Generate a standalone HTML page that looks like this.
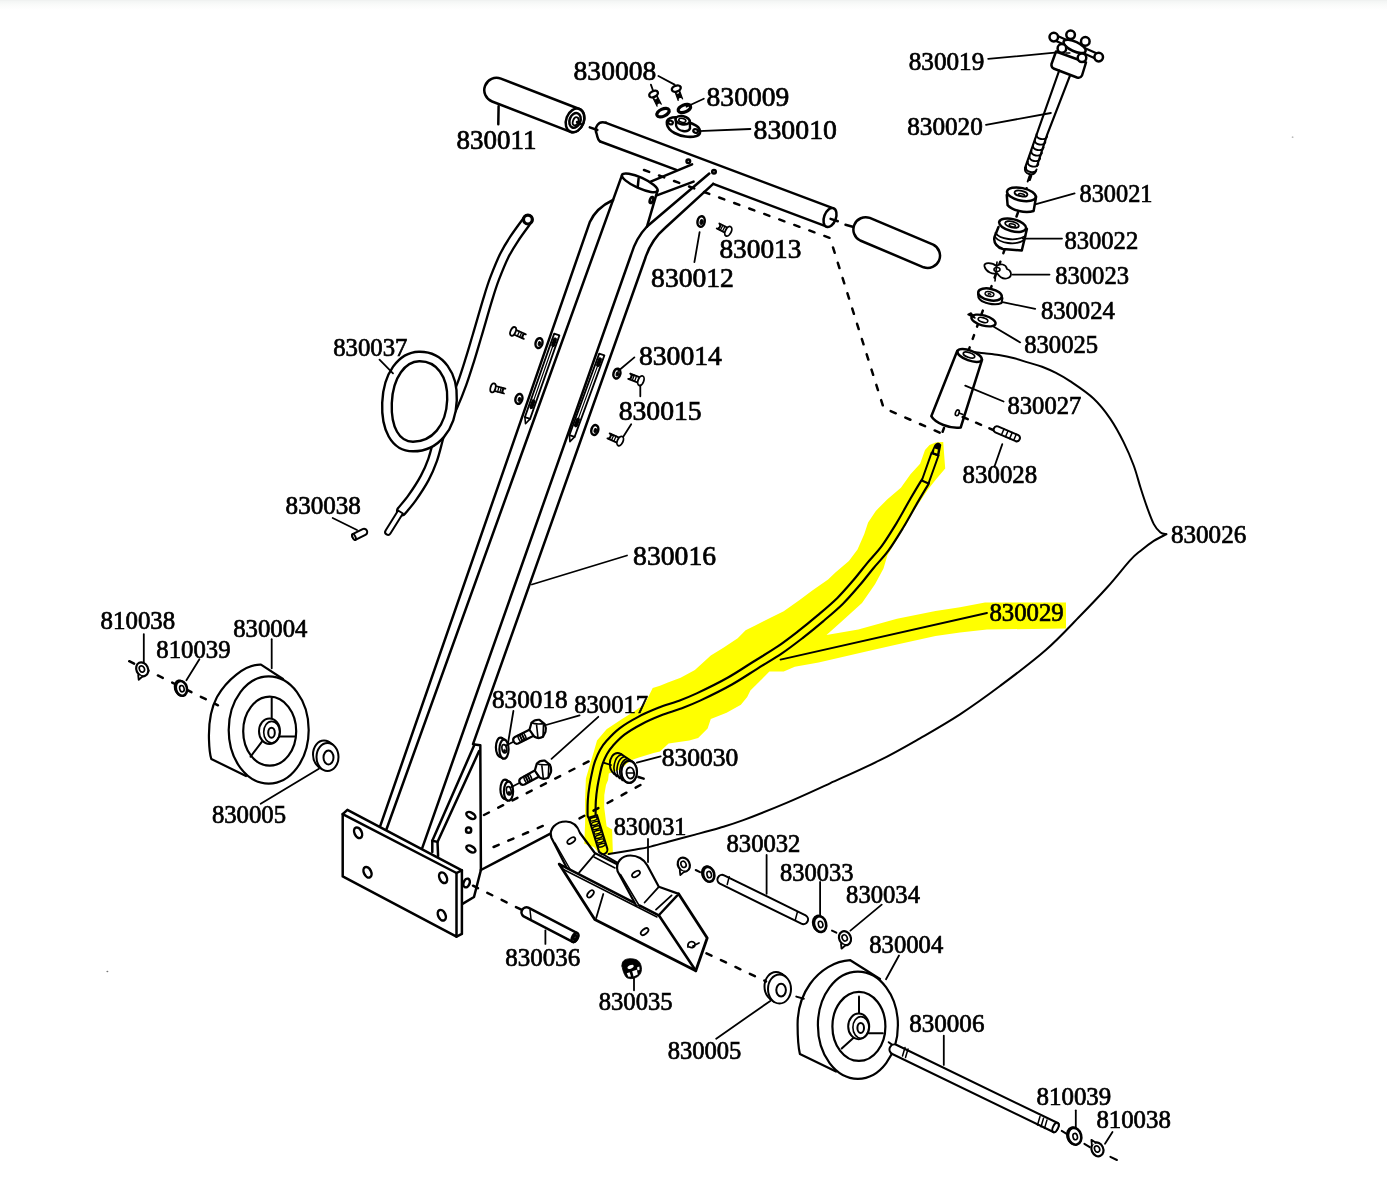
<!DOCTYPE html>
<html><head><meta charset="utf-8"><title>Parts diagram</title><style>
html,body{margin:0;padding:0;background:#fff;width:1387px;height:1195px;overflow:hidden}
svg{display:block}
text{font-family:"Liberation Serif",serif;fill:#000;stroke:#000;stroke-width:0.7px}
</style></head><body>
<svg width="1387" height="1195" viewBox="0 0 1387 1195">
<defs><linearGradient id="sh" x1="0" y1="0" x2="0" y2="1"><stop offset="0" stop-color="#eef0ef"/><stop offset="0.15" stop-color="#f4f6f5"/><stop offset="0.5" stop-color="#fafbfa"/><stop offset="1" stop-color="#fff"/></linearGradient></defs>
<rect width="1387" height="1195" fill="#fff"/>
<rect width="1387" height="10" fill="url(#sh)"/>
<g fill="none" stroke="#000" stroke-width="2.5" stroke-linecap="round" stroke-linejoin="round">
<path d="M606,122.8 L831.5,207.6"/>
<path d="M600.2,141.5 L676.3,169.9"/>
<path d="M713.2,183.9 L827.5,226.8"/>
<path d="M606,122.8 C598,120 594,128 596.7,134 C597.5,138 598.5,140.5 600.2,141.5"/>
<ellipse cx="830.0" cy="217.5" rx="5.9" ry="9.9" transform="rotate(20.4 830.0 217.5)" fill="#fff"/>
<polyline points="830.6,218.9 837.8,221.2"/>
<path d="M570.6,131.8 L492.1,101.5 A12.2,12.2 0 0 1 500.9,78.7 L579.4,109.0 A8.8,12.2 21.1 0 1 570.6,131.8 Z" fill="#fff"/>
<ellipse cx="575.0" cy="120.4" rx="8.8" ry="12.2" transform="rotate(21.105953050306816 575.0 120.4)" fill="#fff"/>
<ellipse cx="575.0" cy="120.4" rx="5.4" ry="7.6" transform="rotate(21.105953050306816 575.0 120.4)"/>
<ellipse cx="575.6" cy="121.3" rx="2.6" ry="4.2" transform="rotate(21 575.6 121.3)" stroke-width="1.8"/>
<polyline points="577.0,122.0 581.0,124.0"/>
<polyline points="589.8,127.4 597.3,130.0"/>
<polyline points="845.5,224.8 852.7,226.7"/>
<path d="M923.6,267.3 L860.2,240.5 A12.3,12.3 0 0 1 869.8,217.9 L933.2,244.7 A12.3,12.3 0 0 1 923.6,267.3 Z" fill="#fff"/>
<polyline points="498.6,106.3 498.3,124.3"/>
<polyline points="644.0,170.0 830.0,238.0 883.6,407.9 942.4,433.9" stroke-dasharray="5.5 10.5"/>
<path d="M380.2,826.1 L589.7,222.3 Q596,208 613,200"/>
<path d="M386.4,829.5 L622.1,174.8"/>
<ellipse cx="639.8" cy="182.8" rx="19.4" ry="5.4" transform="rotate(24.2 639.8 182.8)" fill="#fff"/>
<polyline points="638.6,178.6 637.8,186.5"/>
<path d="M657.5,190.7 L646.9,226.8"/>
<ellipse cx="651.5" cy="200.0" rx="1.6" ry="3.2" transform="rotate(20 651.5 200.0)"/>
<polyline points="657.5,195.2 693.6,181.6"/>
<polyline points="650.7,181.6 692.1,164.3"/>
<ellipse cx="688.3" cy="161.3" rx="1.8" ry="1.8"/>
<ellipse cx="714.0" cy="171.8" rx="1.8" ry="1.8"/>
<path d="M422.3,847.8 L631,255 Q636,238 647,226.5 L709.3,173.5"/>
<path d="M473,744.1 L645,259 Q651,240 665,228 L713.2,183.9"/>
<path d="M474.5,744.6 L480.3,745.2 L480.9,870"/>
<path d="M474.5,744.6 L432.3,840.7 L432.3,851.9"/>
<path d="M479.1,751.1 L437.5,841.9 L438.1,856"/>
<polyline points="432.3,840.7 437.5,841.9"/>
<path d="M480.9,870 L474,897 L462.5,903.8"/>
<polyline points="480.9,870.0 552.3,832.6"/>
<ellipse cx="470.9" cy="815.5" rx="2.8" ry="5.0" transform="rotate(-60 470.9 815.5)" fill="#fff"/>
<ellipse cx="470.9" cy="849.0" rx="2.8" ry="5.0" transform="rotate(-60 470.9 849.0)" fill="#fff"/>
<ellipse cx="468.6" cy="830.2" rx="2.6" ry="2.6"/>
<ellipse cx="466.6" cy="883.0" rx="3.0" ry="4.5" transform="rotate(20 466.6 883.0)"/>
<path d="M342.7,814.1 L456.5,873 L456.5,936.6 L342.7,876.4 Z" fill="#fff"/>
<path d="M342.7,814.1 L347.4,809.8 L461.9,870.3 L456.5,873"/>
<path d="M461.9,870.3 L461.9,933.9 L456.5,936.6"/>
<ellipse cx="358.1" cy="832.8" rx="3.6" ry="5.6" transform="rotate(-25 358.1 832.8)"/>
<ellipse cx="367.5" cy="872.3" rx="3.6" ry="5.6" transform="rotate(-25 367.5 872.3)"/>
<ellipse cx="443.1" cy="877.7" rx="3.6" ry="5.6" transform="rotate(-25 443.1 877.7)"/>
<ellipse cx="441.8" cy="915.2" rx="3.6" ry="5.6" transform="rotate(-25 441.8 915.2)"/>
<path d="M651.5,95.1 L657.1,106.2 A2.3,2.3 0 0 1 661.3,104.2 L655.7,93.1 Z" stroke-width="1.2" fill="#000"/>
<ellipse cx="655.6" cy="98.0" rx="1.2" ry="1.2" stroke-width="0.01" fill="#fff"/>
<ellipse cx="653.6" cy="94.1" rx="2.9" ry="4.6" transform="rotate(63.22884978553781 653.6 94.1)" stroke-width="2.4" fill="#fff"/>
<ellipse cx="653.6" cy="94.1" rx="1.1" ry="2.5" transform="rotate(63.22884978553781 653.6 94.1)" stroke-width="0.01" fill="#fff"/>
<path d="M674.1,89.4 L678.2,100.5 A2.3,2.3 0 0 1 682.6,98.9 L678.5,87.8 Z" stroke-width="1.2" fill="#000"/>
<ellipse cx="677.7" cy="92.5" rx="1.2" ry="1.2" stroke-width="0.01" fill="#fff"/>
<ellipse cx="676.3" cy="88.6" rx="2.9" ry="4.6" transform="rotate(69.72731438669005 676.3 88.6)" stroke-width="2.4" fill="#fff"/>
<ellipse cx="676.3" cy="88.6" rx="1.1" ry="2.5" transform="rotate(69.72731438669005 676.3 88.6)" stroke-width="0.01" fill="#fff"/>
<ellipse cx="663.0" cy="112.6" rx="6.6" ry="3.6" transform="rotate(-25 663.0 112.6)" stroke-width="3.2"/>
<ellipse cx="684.4" cy="108.5" rx="6.6" ry="3.6" transform="rotate(-22 684.4 108.5)" stroke-width="3.2"/>
<path d="M667,124.5 C665.5,118.5 672,116.5 679,117.5 L694,124.5 C701,127.5 702,134 696.5,136 C690,138 681,136.5 674.5,133 C670,130.5 667.6,127.5 667,124.5 Z" stroke-width="2.6" fill="#fff"/>
<path d="M675.8,119 L676.2,126 C678,131.5 688,133 690,128.5 L689.8,121.5" stroke-width="2.4" fill="#fff"/>
<ellipse cx="682.6" cy="120.2" rx="7.2" ry="4.0" transform="rotate(12 682.6 120.2)" stroke-width="2.6" fill="#fff"/>
<ellipse cx="682.3" cy="120.4" rx="3.6" ry="1.9" transform="rotate(12 682.3 120.4)" stroke-width="1.6"/>
<ellipse cx="670.5" cy="122.5" rx="2.4" ry="1.8" transform="rotate(20 670.5 122.5)" stroke-width="2.2"/>
<ellipse cx="695.6" cy="131.0" rx="2.4" ry="1.8" transform="rotate(20 695.6 131.0)" stroke-width="2.2"/>
<polyline points="658.4,76.0 674.6,84.6" stroke-width="1.8"/>
<polyline points="650.9,84.6 653.0,90.5" stroke-width="1.8"/>
<polyline points="686.5,106.7 703.8,98.7" stroke-width="1.8"/>
<polyline points="698.4,131.1 750.4,129.0" stroke-width="1.8"/>
<ellipse cx="701.1" cy="221.5" rx="3.6" ry="5.4" transform="rotate(10 701.1 221.5)" fill="#fff"/>
<ellipse cx="701.6" cy="222.0" rx="1.6" ry="2.4" transform="rotate(10 701.6 222.0)" stroke-width="1" fill="#000"/>
<path d="M729.6,228.8 L719.3,223.5 A2.9,2.9 0 0 1 716.7,228.5 L727.0,233.8" stroke-width="1.8" fill="#fff"/>
<polyline points="725.0,226.4 722.4,231.5" stroke-width="1.3"/>
<polyline points="722.9,225.3 720.3,230.4" stroke-width="1.3"/>
<polyline points="720.9,224.3 718.2,229.3" stroke-width="1.3"/>
<ellipse cx="728.3" cy="231.3" rx="2.9" ry="5.2" transform="rotate(-152.77132082290862 728.3 231.3)" stroke-width="1.8" fill="#fff"/>
<polyline points="699.6,232.1 694.4,262.2" stroke-width="1.8"/>
<path d="M554.2,333.6 L524.9,417.1 L530.1,418.9 L559.4,335.4 Z" stroke-width="1.8" fill="#fff"/>
<polyline points="554.8,340.2 530.8,408.6" stroke-width="1.2"/>
<polyline points="555.0,339.5 553.1,345.2" stroke-width="4"/>
<polyline points="533.4,401.3 531.4,407.0" stroke-width="4"/>
<path d="M524.9,417.1 L525.5,423.7 L530.1,418.9" stroke-width="1.6"/>
<path d="M599.2,353.6 L569.4,435.1 L574.6,436.9 L604.4,355.4 Z" stroke-width="1.8" fill="#fff"/>
<polyline points="599.7,360.1 575.4,426.6" stroke-width="1.2"/>
<polyline points="600.0,359.4 598.0,365.0" stroke-width="4"/>
<polyline points="578.0,419.7 575.9,425.3" stroke-width="4"/>
<path d="M569.4,435.1 L569.9,441.6 L574.6,436.9" stroke-width="1.6"/>
<path d="M512.1,333.7 L523.8,338.9 A2.5,2.5 0 0 1 525.8,334.3 L514.1,329.1" stroke-width="1.8" fill="#fff"/>
<polyline points="517.3,336.1 519.4,331.4" stroke-width="1.3"/>
<polyline points="519.7,337.1 521.7,332.5" stroke-width="1.3"/>
<polyline points="522.0,338.1 524.1,333.5" stroke-width="1.3"/>
<ellipse cx="513.1" cy="331.4" rx="2.5" ry="4.6" transform="rotate(23.962488974578495 513.1 331.4)" stroke-width="1.8" fill="#fff"/>
<ellipse cx="539.0" cy="343.1" rx="3.4" ry="5.0" transform="rotate(15 539.0 343.1)" fill="#fff"/>
<ellipse cx="539.5" cy="343.6" rx="1.3" ry="2.0" transform="rotate(15 539.5 343.6)" stroke-width="1" fill="#000"/>
<path d="M492.3,390.3 L504.0,393.5 A2.5,2.5 0 0 1 505.4,388.7 L493.7,385.5" stroke-width="1.8" fill="#fff"/>
<polyline points="497.6,391.8 498.9,386.9" stroke-width="1.3"/>
<polyline points="499.9,392.4 501.3,387.5" stroke-width="1.3"/>
<polyline points="502.3,393.1 503.6,388.2" stroke-width="1.3"/>
<ellipse cx="493.0" cy="387.9" rx="2.5" ry="4.6" transform="rotate(15.296547314430292 493.0 387.9)" stroke-width="1.8" fill="#fff"/>
<ellipse cx="518.9" cy="398.9" rx="3.4" ry="5.0" transform="rotate(15 518.9 398.9)" fill="#fff"/>
<ellipse cx="519.4" cy="399.4" rx="1.3" ry="2.0" transform="rotate(15 519.4 399.4)" stroke-width="1" fill="#000"/>
<ellipse cx="616.9" cy="373.6" rx="3.4" ry="5.0" transform="rotate(15 616.9 373.6)" fill="#fff"/>
<ellipse cx="617.4" cy="374.1" rx="1.3" ry="2.0" transform="rotate(15 617.4 374.1)" stroke-width="1" fill="#000"/>
<path d="M641.9,378.1 L630.2,373.6 A2.8,2.8 0 0 1 628.2,378.8 L639.9,383.3" stroke-width="1.8" fill="#fff"/>
<polyline points="636.6,376.1 634.6,381.2" stroke-width="1.3"/>
<polyline points="634.3,375.2 632.3,380.3" stroke-width="1.3"/>
<polyline points="631.9,374.3 630.0,379.4" stroke-width="1.3"/>
<ellipse cx="640.9" cy="380.7" rx="2.8" ry="5.0" transform="rotate(-158.9624889745781 640.9 380.7)" stroke-width="1.8" fill="#fff"/>
<ellipse cx="594.8" cy="430.0" rx="3.4" ry="5.0" transform="rotate(15 594.8 430.0)" fill="#fff"/>
<ellipse cx="595.3" cy="430.5" rx="1.3" ry="2.0" transform="rotate(15 595.3 430.5)" stroke-width="1" fill="#000"/>
<path d="M621.3,438.6 L609.6,433.4 A2.8,2.8 0 0 1 607.4,438.4 L619.1,443.6" stroke-width="1.8" fill="#fff"/>
<polyline points="616.1,436.2 613.8,441.3" stroke-width="1.3"/>
<polyline points="613.7,435.2 611.5,440.2" stroke-width="1.3"/>
<polyline points="611.4,434.2 609.1,439.2" stroke-width="1.3"/>
<ellipse cx="620.2" cy="441.1" rx="2.8" ry="5.0" transform="rotate(-156.0375110254217 620.2 441.1)" stroke-width="1.8" fill="#fff"/>
<polyline points="618.2,371.0 634.4,357.4" stroke-width="1.8"/>
<polyline points="640.3,385.3 640.3,396.3" stroke-width="1.8"/>
<polyline points="623.4,436.5 631.2,424.2" stroke-width="1.8"/>
<path d="M527.9,219.6 C525.6,222.8 518.2,232.6 514.3,238.6 C510.3,244.6 507.5,249.1 504.2,255.7 C500.9,262.3 497.4,271.3 494.7,278.3 C492.0,285.3 491.1,288.3 488.2,297.9 C485.2,307.5 480.1,325.6 477.0,336.0 C473.9,346.4 472.3,352.1 469.8,360.0 C467.3,367.9 465.0,375.4 462.2,383.2 C459.4,391.0 456.1,399.3 452.8,406.6 C449.5,413.9 444.6,422.0 442.3,427.1 C440.0,432.2 440.6,431.5 439.0,437.0 C437.4,442.5 435.0,453.2 432.6,460.0 C430.2,466.8 428.1,471.7 424.7,478.0 C421.3,484.3 415.9,492.5 412.0,498.0 C408.1,503.5 403.2,508.8 401.5,511.0 " stroke-width="11.2"/>
<path d="M527.9,219.6 C525.6,222.8 518.2,232.6 514.3,238.6 C510.3,244.6 507.5,249.1 504.2,255.7 C500.9,262.3 497.4,271.3 494.7,278.3 C492.0,285.3 491.1,288.3 488.2,297.9 C485.2,307.5 480.1,325.6 477.0,336.0 C473.9,346.4 472.3,352.1 469.8,360.0 C467.3,367.9 465.0,375.4 462.2,383.2 C459.4,391.0 456.1,399.3 452.8,406.6 C449.5,413.9 444.6,422.0 442.3,427.1 C440.0,432.2 440.6,431.5 439.0,437.0 C437.4,442.5 435.0,453.2 432.6,460.0 C430.2,466.8 428.1,471.7 424.7,478.0 C421.3,484.3 415.9,492.5 412.0,498.0 C408.1,503.5 403.2,508.8 401.5,511.0 " stroke="#fff" stroke-width="6.6"/>
<path d="M419,356.5 C440,356 453,375 452,400 C451,428 435,446.5 413,446.5 C395,446.5 386,428 387,403 C388,375 402,357 419,356.5 Z" stroke-width="12" fill="#fff"/>
<path d="M419,356.5 C440,356 453,375 452,400 C451,428 435,446.5 413,446.5 C395,446.5 386,428 387,403 C388,375 402,357 419,356.5 Z" stroke="#fff" stroke-width="7.2"/>
<ellipse cx="527.9" cy="219.6" rx="4.4" ry="4.4" stroke-width="3.2" fill="#fff"/>
<ellipse cx="527.9" cy="219.6" rx="1.4" ry="1.4" stroke-width="0.01" fill="#fff"/>
<path d="M385.6,530.5 L398.1,510.5 L402.9,513.5 L390.4,533.5 A2.8,2.8 0 0 1 385.6,530.5 Z" stroke-width="2" fill="#fff"/>
<polyline points="379.5,359.7 393.0,373.3" stroke-width="1.8"/>
<path d="M365.4,534.9 L355.4,539.9 A1.4,3.2 -26.6 0 1 352.6,534.1 L362.6,529.1 A3.2,3.2 0 0 1 365.4,534.9 Z" stroke-width="2" fill="#fff"/>
<ellipse cx="354.0" cy="537.0" rx="1.4" ry="3.2" transform="rotate(-26.56505117707799 354.0 537.0)" stroke-width="2" fill="#fff"/>
<polyline points="332.7,518.0 357.0,530.0" stroke-width="1.8"/>
<polyline points="1031.0,176.0 968.0,352.0" stroke-dasharray="4 9"/>
<path d="M1056,51.5 L1086,62.5 L1082,75.5 Q1080.5,78.5 1077,77.5 L1053.5,68.5 Q1051,67 1051.5,64 Z" fill="#fff"/>
<path d="M1053.8,37.1 L1098.7,57.1" stroke-width="7.5"/>
<path d="M1053.8,37.1 L1098.7,57.1" stroke="#fff" stroke-width="3.2"/>
<ellipse cx="1074.6" cy="46.4" rx="12.0" ry="4.8" transform="rotate(25 1074.6 46.4)" fill="#fff"/>
<ellipse cx="1053.8" cy="37.1" rx="4.3" ry="4.3" fill="#fff"/>
<ellipse cx="1070.6" cy="34.8" rx="4.3" ry="4.3" fill="#fff"/>
<ellipse cx="1085.3" cy="41.4" rx="4.3" ry="4.3" fill="#fff"/>
<ellipse cx="1098.7" cy="57.1" rx="4.3" ry="4.3" fill="#fff"/>
<ellipse cx="1061.9" cy="48.4" rx="4.3" ry="4.3" fill="#fff"/>
<ellipse cx="1082.0" cy="57.8" rx="4.3" ry="4.3" fill="#fff"/>
<polyline points="1065.9,53.1 1069.9,53.1" stroke-width="1.5"/>
<polyline points="988.2,58.9 1057.4,52.4" stroke-width="1.8"/>
<path d="M1059.2,70.5 L1038.4,129.5 L1025,168 M1069.9,75.9 L1047.1,134.8 L1037,166" stroke-width="2.2"/>
<path d="M1036.6,134.0 C1035.1,139.5 1046.1,141.0 1047.1,136.5" stroke-width="1.9"/>
<path d="M1034.9,139.5 C1033.4,145.0 1044.4,146.5 1045.4,142.0" stroke-width="1.9"/>
<path d="M1033.1,145.0 C1031.6,150.5 1042.6,152.0 1043.6,147.5" stroke-width="1.9"/>
<path d="M1031.4,150.5 C1029.9,156.0 1040.9,157.5 1041.9,153.0" stroke-width="1.9"/>
<path d="M1029.6,156.0 C1028.1,161.5 1039.1,163.0 1040.1,158.5" stroke-width="1.9"/>
<path d="M1027.9,161.5 C1026.4,167.0 1037.4,168.5 1038.4,164.0" stroke-width="1.9"/>
<path d="M1026.1,167.0 C1024.6,172.5 1035.6,174.0 1036.6,169.5" stroke-width="1.9"/>
<path d="M1025,168 C1024,174 1033,177 1036,171" stroke-width="2"/>
<polyline points="1029.5,176.0 1027.7,181.5" stroke-width="2"/>
<polyline points="986.0,124.9 1050.9,113.0" stroke-width="1.8"/>
<path d="M1006.8,195.1 L1007.6,205.1 C1012,210 1025,214 1033.6,211 L1036.1,196.8" fill="#fff"/>
<ellipse cx="1021.4" cy="194.3" rx="14.6" ry="6.3" transform="rotate(12 1021.4 194.3)" fill="#fff"/>
<ellipse cx="1021.0" cy="193.5" rx="6.5" ry="2.8" transform="rotate(12 1021.0 193.5)" stroke-width="1.8"/>
<ellipse cx="1021.5" cy="195.0" rx="3.0" ry="1.3" transform="rotate(12 1021.5 195.0)" stroke-width="1.5"/>
<polyline points="1035.2,204.3 1074.6,193.4" stroke-width="1.8"/>
<path d="M998.5,227 L994.5,237 C993,243 998,248 1003,249 L1021.8,250.5 L1026.9,229" fill="#fff"/>
<path d="M995,237 C1000,243 1015,246 1024.5,240" stroke-width="1.8"/>
<path d="M995.5,233 C1000,239 1015,242 1025.5,236" stroke-width="1.8"/>
<ellipse cx="1012.6" cy="225.2" rx="13.8" ry="6.0" transform="rotate(14 1012.6 225.2)" fill="#fff"/>
<ellipse cx="1012.0" cy="224.5" rx="7.0" ry="3.0" transform="rotate(14 1012.0 224.5)" stroke-width="1.8"/>
<ellipse cx="1012.3" cy="225.3" rx="3.2" ry="1.4" transform="rotate(14 1012.3 225.3)" stroke-width="1.5"/>
<polyline points="1022.7,238.6 1062.0,238.6" stroke-width="1.8"/>
<path d="M984.5,266.5 C983,262 992,262 996.5,266 C1000,263 1006,264 1007,269 C1011,270 1013,276 1008,278 C1003,280 999,276 997,273 C993,275 986,272 984.5,266.5 Z" stroke-width="1.8" fill="#fff"/>
<ellipse cx="997.0" cy="269.5" rx="3.0" ry="2.0" stroke-width="1.6"/>
<polyline points="997.0,262.0 995.0,281.0" stroke-width="1.6"/>
<polyline points="1012.6,274.6 1049.5,274.6" stroke-width="1.8"/>
<path d="M978,294 L978.5,297.5 C981,303 995,306 1001.5,303 L1002.5,298" stroke-width="2" fill="#fff"/>
<ellipse cx="990.0" cy="294.5" rx="12.0" ry="5.7" transform="rotate(12 990.0 294.5)" fill="#fff"/>
<ellipse cx="989.5" cy="294.0" rx="4.5" ry="2.3" transform="rotate(12 989.5 294.0)" stroke-width="1.5"/>
<ellipse cx="989.5" cy="294.2" rx="1.5" ry="0.8" transform="rotate(12 989.5 294.2)" stroke-width="1"/>
<polyline points="1002.6,302.2 1035.2,308.9" stroke-width="1.8"/>
<ellipse cx="983.5" cy="320.5" rx="12.5" ry="5.0" transform="rotate(16 983.5 320.5)" stroke-width="2.4" fill="#fff"/>
<ellipse cx="983.0" cy="320.0" rx="5.0" ry="2.2" transform="rotate(16 983.0 320.0)" stroke-width="1.6"/>
<path d="M968,314.5 L975,318 L971,313 Z" stroke-width="1.5" fill="#000"/>
<polyline points="993.4,326.5 1020.2,342.4" stroke-width="1.8"/>
<path d="M957.3,350.7 L931.3,416.2 C935,423 950,429 960.7,427.5 L982.1,359.7" fill="#fff"/>
<ellipse cx="969.6" cy="355.5" rx="12.8" ry="5.0" transform="rotate(20 969.6 355.5)" fill="#fff"/>
<ellipse cx="969.0" cy="355.0" rx="6.0" ry="2.4" transform="rotate(20 969.0 355.0)" stroke-width="1.8"/>
<ellipse cx="957.3" cy="412.8" rx="1.8" ry="3.0" transform="rotate(20 957.3 412.8)" stroke-width="1.6"/>
<polyline points="959.0,413.0 963.0,414.5" stroke-width="1.6"/>
<polyline points="965.2,385.7 1003.6,401.5" stroke-width="1.8"/>
<polyline points="944.0,428.0 941.0,436.0" stroke-dasharray="4 6"/>
<polyline points="962.7,417.0 994.4,430.5" stroke-dasharray="5.5 9"/>
<path d="M1015.7,441.2 L995.3,432.4 A3.3,3.3 0 0 1 997.9,426.4 L1018.3,435.2 A3.3,3.3 0 0 1 1015.7,441.2 Z" stroke-width="2" fill="#fff"/>
<polyline points="1004.0,429.0 1001.4,435.0" stroke-width="1.5"/>
<polyline points="1008.1,430.8 1005.5,436.8" stroke-width="1.5"/>
<polyline points="1012.2,432.6 1009.6,438.6" stroke-width="1.5"/>
<polyline points="1016.3,434.3 1013.7,440.3" stroke-width="1.5"/>
<polyline points="1002.3,444.1 994.4,466.7" stroke-width="1.8"/>
<path d="M975.0,352.2 C976.6,352.4 980.4,352.8 984.4,353.3 C988.4,353.8 994.0,354.3 998.8,355.1 C1003.6,355.9 1008.5,356.8 1013.3,358.0 C1018.1,359.2 1022.9,360.9 1027.7,362.4 C1032.5,363.8 1037.3,364.9 1042.1,366.7 C1046.9,368.5 1051.8,370.8 1056.5,373.2 C1061.2,375.6 1063.8,376.9 1070.0,381.1 C1076.2,385.3 1086.8,392.2 1093.5,398.5 C1100.2,404.8 1105.2,411.3 1110.2,418.6 C1115.2,425.9 1119.7,434.3 1123.6,442.1 C1127.5,449.9 1130.9,458.0 1133.7,465.5 C1136.5,473.0 1138.2,480.3 1140.4,487.3 C1142.6,494.3 1144.9,501.3 1147.1,507.4 C1149.3,513.5 1151.6,519.9 1153.8,524.1 C1156.0,528.3 1158.4,530.8 1160.5,532.5 C1162.6,534.2 1165.3,533.9 1166.3,534.2 " stroke-width="2"/>
<path d="M1166.3,534.2 C1164.2,535.3 1158.1,538.1 1153.8,540.9 C1149.5,543.7 1144.3,547.7 1140.4,550.9 C1136.5,554.1 1135.8,554.1 1130.3,560.1 C1124.8,566.1 1115.9,577.7 1107.5,587.0 C1099.1,596.3 1090.3,605.5 1080.0,616.0 C1069.7,626.5 1059.1,638.3 1045.8,650.0 C1032.5,661.7 1014.3,675.3 1000.0,686.0 C985.7,696.7 973.3,705.6 960.0,714.3 C946.7,723.0 933.3,730.6 920.0,738.3 C906.7,745.9 895.0,752.7 880.0,760.2 C865.0,767.7 845.6,776.2 830.0,783.3 C814.4,790.4 801.0,796.7 786.5,802.8 C772.0,808.9 754.4,816.0 743.3,820.1 C732.2,824.2 728.0,825.3 720.0,827.7 C712.0,830.1 703.7,832.3 695.2,834.6 C686.7,836.9 677.0,839.4 669.2,841.5 C661.4,843.6 654.2,845.7 648.4,847.1 C642.6,848.5 641.2,848.5 634.6,849.7 C628.0,850.9 613.0,853.4 608.7,854.1 " stroke-width="2"/>
<path d="M924.8,482.5 C923.0,485.4 918.5,492.9 914.3,500.1 C910.1,507.3 904.6,517.7 899.7,525.7 C894.8,533.7 890.0,541.6 885.1,548.3 C880.2,555.0 874.8,560.2 870.1,565.9 C865.4,571.6 861.8,576.6 856.8,582.4 C851.8,588.2 846.3,594.8 840.2,600.8 C834.1,606.8 826.9,612.8 820.2,618.5 C813.5,624.2 806.8,629.7 800.1,634.9 C793.4,640.1 787.5,644.7 780.0,649.8 C772.5,654.9 763.3,660.2 755.0,665.4 C746.7,670.6 739.4,675.7 730.0,681.0 C720.6,686.3 706.9,693.0 698.4,697.0 C689.9,701.0 685.3,702.6 678.9,705.0 C672.5,707.4 666.3,709.0 659.8,711.6 C653.3,714.2 646.4,717.1 640.1,720.4 C633.8,723.7 627.0,727.7 622.0,731.5 C617.0,735.3 613.1,739.6 610.0,743.0 C606.9,746.4 605.3,748.8 603.5,752.0 C601.7,755.2 600.2,758.8 599.0,762.0 C597.8,765.2 597.4,766.9 596.5,771.0 C595.6,775.1 594.2,781.7 593.4,786.7 C592.6,791.7 592.1,796.3 591.8,801.0 C591.5,805.7 591.6,812.7 591.6,815.0 " stroke-width="10.2"/>
<path d="M924.8,482.5 C923.0,485.4 918.5,492.9 914.3,500.1 C910.1,507.3 904.6,517.7 899.7,525.7 C894.8,533.7 890.0,541.6 885.1,548.3 C880.2,555.0 874.8,560.2 870.1,565.9 C865.4,571.6 861.8,576.6 856.8,582.4 C851.8,588.2 846.3,594.8 840.2,600.8 C834.1,606.8 826.9,612.8 820.2,618.5 C813.5,624.2 806.8,629.7 800.1,634.9 C793.4,640.1 787.5,644.7 780.0,649.8 C772.5,654.9 763.3,660.2 755.0,665.4 C746.7,670.6 739.4,675.7 730.0,681.0 C720.6,686.3 706.9,693.0 698.4,697.0 C689.9,701.0 685.3,702.6 678.9,705.0 C672.5,707.4 666.3,709.0 659.8,711.6 C653.3,714.2 646.4,717.1 640.1,720.4 C633.8,723.7 627.0,727.7 622.0,731.5 C617.0,735.3 613.1,739.6 610.0,743.0 C606.9,746.4 605.3,748.8 603.5,752.0 C601.7,755.2 600.2,758.8 599.0,762.0 C597.8,765.2 597.4,766.9 596.5,771.0 C595.6,775.1 594.2,781.7 593.4,786.7 C592.6,791.7 592.1,796.3 591.8,801.0 C591.5,805.7 591.6,812.7 591.6,815.0 " stroke="#fff" stroke-width="5.9"/>
<path d="M931.5,453 L921.8,480.5 L928.5,483.5 L938.5,455.5 Z" stroke-width="2" fill="#fff"/>
<path d="M931.5,453 L935,445.5 Q937.5,441.5 940.5,445 L938.5,455.5 Z" stroke-width="1.5" fill="#000"/>
<path d="M934.6,448.6 L933.9,452.4 L937.2,453.4 L937.9,449.6 Z" stroke-width="0.01" fill="#fff"/>
<polyline points="780.5,659.6 987.0,613.0" stroke-width="1.8"/>
<path d="M598.9,851.2 L588.6,817.7 L597.0,815.1 L607.3,848.6 A4.4,4.4 0 0 1 598.9,851.2 Z" stroke-width="2" fill="#fff"/>
<ellipse cx="593.6" cy="819.1" rx="3.8" ry="1.6" transform="rotate(-17 593.6 819.1)" stroke-width="1.5"/>
<ellipse cx="595.0" cy="823.4" rx="3.8" ry="1.6" transform="rotate(-17 595.0 823.4)" stroke-width="1.5"/>
<ellipse cx="596.3" cy="827.8" rx="3.8" ry="1.6" transform="rotate(-17 596.3 827.8)" stroke-width="1.5"/>
<ellipse cx="597.6" cy="832.1" rx="3.8" ry="1.6" transform="rotate(-17 597.6 832.1)" stroke-width="1.5"/>
<ellipse cx="599.0" cy="836.5" rx="3.8" ry="1.6" transform="rotate(-17 599.0 836.5)" stroke-width="1.5"/>
<ellipse cx="600.3" cy="840.9" rx="3.8" ry="1.6" transform="rotate(-17 600.3 840.9)" stroke-width="1.5"/>
<ellipse cx="601.7" cy="845.2" rx="3.8" ry="1.6" transform="rotate(-17 601.7 845.2)" stroke-width="1.5"/>
<polyline points="484.0,815.0 594.0,758.7" stroke-dasharray="5.5 10.5"/>
<polyline points="493.6,847.0 545.0,825.0" stroke-dasharray="5.5 10.5"/>
<polyline points="579.5,818.4 646.3,781.8" stroke-dasharray="5.5 10.5"/>
<polyline points="638.4,777.0 646.3,779.4" stroke-dasharray="5.5 10.5"/>
<polyline points="473.0,885.7 523.6,910.8" stroke-dasharray="5.5 10.5"/>
<ellipse cx="617.6" cy="764.0" rx="7.8" ry="11.0" stroke-width="2" fill="#fff"/>
<path d="M621.0,754.1 L632.6,761.9 L625.8,781.7 L614.2,773.9 Z" stroke-width="0.01" fill="#fff"/>
<path d="M621.0,754.1 L632.6,761.9 M625.8,781.7 L614.2,773.9" stroke-width="2"/>
<ellipse cx="629.2" cy="771.8" rx="7.8" ry="11.0" stroke-width="2" fill="#fff"/>
<path d="M620.5,755.0 C614.5,757.0 611.5,770.0 616.5,776.5" stroke-width="1.6"/>
<path d="M623.5,757.0 C617.5,759.0 614.5,772.0 619.5,778.5" stroke-width="1.6"/>
<path d="M626.3,759.0 C620.3,761.0 617.3,774.0 622.3,780.5" stroke-width="1.6"/>
<ellipse cx="629.2" cy="771.8" rx="7.8" ry="11.0" stroke-width="2.2" fill="#fff"/>
<ellipse cx="630.3" cy="773.0" rx="3.8" ry="5.6" transform="rotate(-8 630.3 773.0)" stroke-width="1.9"/>
<polyline points="627.0,773.0 633.5,773.0" stroke-width="1.5"/>
<polyline points="604.1,762.9 611.0,765.0" stroke-width="1.8"/>
<polyline points="636.8,762.7 660.7,756.3" stroke-width="1.8"/>
<ellipse cx="500.5" cy="747.2" rx="4.6" ry="9.5" stroke-width="2.2" fill="#fff"/>
<path d="M501.7,738.0 L505.2,740.0 L502.8,758.4 L499.3,756.4 Z" stroke-width="0.01" fill="#fff"/>
<path d="M501.7,738.0 L505.2,740.0 M502.8,758.4 L499.3,756.4" stroke-width="2.2"/>
<ellipse cx="504.0" cy="749.2" rx="4.6" ry="9.5" stroke-width="2.2" fill="#fff"/>
<ellipse cx="504.3" cy="748.7" rx="2.3" ry="4.2" transform="rotate(-10 504.3 748.7)" stroke-width="1.7"/>
<ellipse cx="504.5" cy="750.7" rx="1.2" ry="1.5" stroke-width="0.5" fill="#000"/>
<polyline points="506.5,745.2 516.5,740.2" stroke-width="1.8"/>
<path d="M533.6,735.8 L518.1,743.5 A3.7,3.7 0 0 1 514.9,736.9 L530.4,729.2 Z" stroke-width="2.2" fill="#fff"/>
<ellipse cx="519.9" cy="738.5" rx="1.2" ry="3.6" transform="rotate(-25 519.9 738.5)" stroke-width="1.6"/>
<ellipse cx="522.1" cy="737.4" rx="1.2" ry="3.6" transform="rotate(-25 522.1 737.4)" stroke-width="1.6"/>
<ellipse cx="524.2" cy="736.4" rx="1.2" ry="3.6" transform="rotate(-25 524.2 736.4)" stroke-width="1.6"/>
<path d="M529.5,729.8 L531.5,722.8 Q534.5,719.3 539.5,719.8 L544.5,723.8 Q546.5,727.8 545.5,731.8 L543.0,736.8 Q538.5,739.3 534.5,736.8 Z" stroke-width="2.2" fill="#fff"/>
<path d="M531.5,722.8 C535.5,724.8 540.5,723.8 544.5,723.8 M536.5,724.3 L538.0,737.8 M543.5,724.3 L543.0,736.8" stroke-width="1.6"/>
<ellipse cx="505.0" cy="789.2" rx="4.6" ry="9.5" stroke-width="2.2" fill="#fff"/>
<path d="M506.2,780.0 L509.7,782.0 L507.3,800.4 L503.8,798.4 Z" stroke-width="0.01" fill="#fff"/>
<path d="M506.2,780.0 L509.7,782.0 M507.3,800.4 L503.8,798.4" stroke-width="2.2"/>
<ellipse cx="508.5" cy="791.2" rx="4.6" ry="9.5" stroke-width="2.2" fill="#fff"/>
<ellipse cx="508.8" cy="790.7" rx="2.3" ry="4.2" transform="rotate(-10 508.8 790.7)" stroke-width="1.7"/>
<ellipse cx="509.0" cy="792.7" rx="1.2" ry="1.5" stroke-width="0.5" fill="#000"/>
<polyline points="511.0,787.2 522.7,781.3" stroke-width="1.8"/>
<path d="M538.8,776.7 L524.5,784.5 A3.7,3.7 0 0 1 520.9,778.1 L535.2,770.3 Z" stroke-width="2.2" fill="#fff"/>
<ellipse cx="525.8" cy="779.6" rx="1.2" ry="3.6" transform="rotate(-25 525.8 779.6)" stroke-width="1.6"/>
<ellipse cx="527.8" cy="778.5" rx="1.2" ry="3.6" transform="rotate(-25 527.8 778.5)" stroke-width="1.6"/>
<ellipse cx="529.9" cy="777.4" rx="1.2" ry="3.6" transform="rotate(-25 529.9 777.4)" stroke-width="1.6"/>
<path d="M534.8,770.6 L536.8,763.6 Q539.8,760.1 544.8,760.6 L549.8,764.6 Q551.8,768.6 550.8,772.6 L548.3,777.6 Q543.8,780.1 539.8,777.6 Z" stroke-width="2.2" fill="#fff"/>
<path d="M536.8,763.6 C540.8,765.6 545.8,764.6 549.8,764.6 M541.8,765.1 L543.3,778.6 M548.8,765.1 L548.3,777.6" stroke-width="1.6"/>
<polyline points="513.4,711.0 507.9,743.8" stroke-width="1.8"/>
<polyline points="579.6,715.4 546.0,725.0" stroke-width="1.8"/>
<polyline points="598.3,716.8 551.5,758.9" stroke-width="1.8"/>
<path d="M559.2,864.1 L594.8,919.5 L695.8,970.8 L707.2,938 L678.7,893.9" stroke-width="2.8" fill="#fff"/>
<path d="M559.2,864.1 L658.8,915.3 L695.8,970.8" stroke-width="2.6"/>
<path d="M563.5,869.5 L657,917" stroke-width="1.5"/>
<path d="M658.8,915.3 L678.7,893.9" stroke-width="2.4"/>
<path d="M596.2,918.1 L603.3,894" stroke-width="1.8"/>
<path d="M566.3,866.9 L551.4,837.7 C548.5,829 556,821.5 566,821.5 C573,821.5 577.5,826 580,833 L594.8,853 L617.6,864.5" stroke-width="2.2" fill="#fff"/>
<path d="M555,843 L570.5,870" stroke-width="1.5"/>
<path d="M594.8,854.1 L579.1,872.6" stroke-width="1.8"/>
<path d="M594,857 L615,868" stroke-width="1.5"/>
<ellipse cx="571.3" cy="840.6" rx="4.5" ry="2.4" transform="rotate(-35 571.3 840.6)" stroke-width="1.8"/>
<path d="M636,905.3 L617.6,871.2 C615,862 622,855.5 630.4,855.5 C637,855.5 644,859 647.4,865.5 L658.8,886.8 L678.7,893.9" stroke-width="2.2" fill="#fff"/>
<path d="M620.5,874.5 L640,907" stroke-width="1.5"/>
<path d="M644.6,902.5 L658.8,886.8 M656,909.6 L671.6,895.4" stroke-width="1.8"/>
<ellipse cx="636.0" cy="874.0" rx="4.5" ry="2.4" transform="rotate(-35 636.0 874.0)" stroke-width="1.8"/>
<ellipse cx="590.5" cy="893.9" rx="4.2" ry="2.4" transform="rotate(-50 590.5 893.9)" stroke-width="1.8"/>
<ellipse cx="644.6" cy="931.6" rx="4.5" ry="2.4" transform="rotate(-40 644.6 931.6)" stroke-width="1.8"/>
<path d="M688,947 C687,941 694,940 695,944 C695.5,947 692,948.5 689.5,947 M693,946 L699,943" stroke-width="1.8"/>
<polyline points="648.0,839.0 648.0,862.0" stroke-width="1.8"/>
<path d="M598.6,851.8 L617.7,862.9" stroke-width="1.8"/>
<path d="M622,966 C621.5,961 625,958.8 630,958.7 C635,958.6 638.5,960 640,963 C642,967 642.3,972 639,975.5 C636,978.5 630,979.5 627,977.8 C624.5,976 622.5,970 622,966 Z" stroke-width="0.8" fill="#000"/>
<ellipse cx="630.6" cy="966.9" rx="3.3" ry="1.7" transform="rotate(-25 630.6 966.9)" stroke-width="0.01" fill="#fff"/>
<path d="M632.2,971.3 L636.8,969.8 L637.8,974.5 L633.6,976.4 Z" stroke-width="0.01" fill="#fff"/>
<path d="M637,967.5 L639.3,966.6 L639.6,969.8 L637.6,970.4 Z" stroke-width="0.01" fill="#fff"/>
<path d="M626.8,973.3 L629.6,972.3 L631,976.4 L628.4,976.8 Z" stroke-width="0.01" fill="#fff"/>
<polyline points="634.0,978.6 634.0,990.3" stroke-width="1.8"/>
<path d="M572.7,941.9 L523.7,916.4 A5.0,5.0 0 0 1 528.3,907.6 L577.3,933.1 A2.8,5.0 27.5 0 1 572.7,941.9 Z" fill="#fff"/>
<ellipse cx="575.0" cy="937.5" rx="2.8" ry="5.0" transform="rotate(27.49283695153967 575.0 937.5)" fill="#fff"/>
<ellipse cx="575.0" cy="937.5" rx="1.4" ry="2.5" transform="rotate(27.49283695153967 575.0 937.5)"/>
<polyline points="530.0,910.0 531.0,919.0" stroke-width="1.5"/>
<polyline points="545.4,930.4 545.4,943.9" stroke-width="1.8"/>
<path d="M283,679 L261,664.6 C245,664 226,681 217,697 C210,710 208.5,725 209,740 C209.3,750 210,755 211.3,759 L246,776" stroke-width="2.2" fill="#fff"/>
<ellipse cx="268.7" cy="730.0" rx="40.0" ry="53.6" stroke-width="2.2" fill="#fff"/>
<ellipse cx="269.7" cy="731.2" rx="26.5" ry="34.5" stroke-width="2.2"/>
<polyline points="271.7,698.4 271.7,719.5" stroke-width="2"/>
<polyline points="279.5,736.5 294.8,736.5" stroke-width="2"/>
<polyline points="262.7,740.6 250.6,756.6" stroke-width="2"/>
<ellipse cx="269.5" cy="731.2" rx="10.5" ry="12.8" stroke-width="2" fill="#fff"/>
<ellipse cx="271.7" cy="732.2" rx="8.0" ry="10.8" stroke-width="1.6"/>
<ellipse cx="271.5" cy="732.7" rx="3.3" ry="5.0" stroke-width="2"/>
<path d="M880,979 L850.3,960.2 C835,961 820,970 810,984 C800,998 797.5,1012 797.6,1025 C797.6,1040 798.5,1048 799.9,1053.9 L836,1071.5" stroke-width="2.2" fill="#fff"/>
<ellipse cx="857.9" cy="1025.2" rx="40.0" ry="53.6" stroke-width="2.2" fill="#fff"/>
<ellipse cx="858.9" cy="1026.4" rx="26.5" ry="34.5" stroke-width="2.2"/>
<polyline points="859.0,996.6 859.0,1015.0" stroke-width="2"/>
<polyline points="868.7,1033.3 882.8,1033.3" stroke-width="2"/>
<polyline points="853.6,1037.7 841.7,1048.5" stroke-width="2"/>
<ellipse cx="858.7" cy="1026.4" rx="10.5" ry="12.8" stroke-width="2" fill="#fff"/>
<ellipse cx="860.9" cy="1027.4" rx="8.0" ry="10.8" stroke-width="1.6"/>
<ellipse cx="860.7" cy="1027.9" rx="3.3" ry="5.0" stroke-width="2"/>
<ellipse cx="324.0" cy="754.5" rx="11.0" ry="14.0" stroke-width="2" fill="#fff"/>
<path d="M329.4,742.3 L332.9,744.8 L322.1,769.2 L318.6,766.7 Z" stroke-width="0.01" fill="#fff"/>
<path d="M329.4,742.3 L332.9,744.8 M322.1,769.2 L318.6,766.7" stroke-width="2"/>
<ellipse cx="327.5" cy="757.0" rx="11.0" ry="14.0" stroke-width="2" fill="#fff"/>
<ellipse cx="328.5" cy="757.5" rx="5.0" ry="7.0" stroke-width="2"/>
<ellipse cx="776.0" cy="986.5" rx="11.5" ry="14.5" stroke-width="2" fill="#fff"/>
<path d="M781.7,973.9 L785.2,976.4 L773.8,1001.6 L770.3,999.1 Z" stroke-width="0.01" fill="#fff"/>
<path d="M781.7,973.9 L785.2,976.4 M773.8,1001.6 L770.3,999.1" stroke-width="2"/>
<ellipse cx="779.5" cy="989.0" rx="11.5" ry="14.5" stroke-width="2" fill="#fff"/>
<ellipse cx="781.1" cy="990.1" rx="4.8" ry="6.3" stroke-width="2"/>
<polyline points="129.2,661.2 218.0,705.3" stroke-dasharray="5.5 10.5"/>
<ellipse cx="142.2" cy="669.3" rx="5.8" ry="7.2" transform="rotate(-25 142.2 669.3)" stroke-width="2.2" fill="#fff"/>
<ellipse cx="141.9" cy="669.0" rx="2.5" ry="3.2" transform="rotate(-25 141.9 669.0)" stroke-width="1.6"/>
<path d="M138.2,675.3 L138.7,679.8 L142.7,676.3" stroke-width="1.8" fill="#fff"/>
<ellipse cx="180.4" cy="687.9" rx="5.5" ry="7.5" transform="rotate(-15 180.4 687.9)" stroke-width="2.2" fill="#fff"/>
<ellipse cx="181.4" cy="688.4" rx="5.5" ry="7.5" transform="rotate(-15 181.4 688.4)" stroke-width="2.6" fill="#fff"/>
<ellipse cx="181.9" cy="688.7" rx="2.2" ry="3.2" transform="rotate(-15 181.9 688.7)" stroke-width="1.6"/>
<polyline points="695.7,870.0 700.0,872.2" stroke-width="2"/>
<polyline points="832.0,930.6 836.3,932.7" stroke-width="2"/>
<ellipse cx="683.8" cy="864.6" rx="5.8" ry="7.2" transform="rotate(-25 683.8 864.6)" stroke-width="2.2" fill="#fff"/>
<ellipse cx="683.5" cy="864.3" rx="2.5" ry="3.2" transform="rotate(-25 683.5 864.3)" stroke-width="1.6"/>
<path d="M679.8,870.6 L680.3,875.1 L684.3,871.6" stroke-width="1.8" fill="#fff"/>
<ellipse cx="707.7" cy="873.8" rx="5.5" ry="7.5" transform="rotate(-15 707.7 873.8)" stroke-width="2.2" fill="#fff"/>
<ellipse cx="708.7" cy="874.3" rx="5.5" ry="7.5" transform="rotate(-15 708.7 874.3)" stroke-width="2.6" fill="#fff"/>
<ellipse cx="709.2" cy="874.6" rx="2.2" ry="3.2" transform="rotate(-15 709.2 874.6)" stroke-width="1.6"/>
<path d="M801.4,923.7 L719.9,883.7 A4.7,4.7 0 0 1 724.1,875.3 L805.6,915.3 A4.7,4.7 0 0 1 801.4,923.7 Z" stroke-width="2" fill="#fff"/>
<polyline points="729.2,876.8 727.2,884.5" stroke-width="1.5"/>
<polyline points="797.4,912.0 795.4,919.5" stroke-width="1.5"/>
<ellipse cx="819.1" cy="923.6" rx="6.0" ry="8.0" transform="rotate(-15 819.1 923.6)" stroke-width="2.2" fill="#fff"/>
<ellipse cx="820.1" cy="924.1" rx="6.0" ry="8.0" transform="rotate(-15 820.1 924.1)" stroke-width="2.6" fill="#fff"/>
<ellipse cx="820.6" cy="924.4" rx="2.2" ry="3.2" transform="rotate(-15 820.6 924.4)" stroke-width="1.6"/>
<ellipse cx="845.0" cy="938.2" rx="5.8" ry="7.2" transform="rotate(-25 845.0 938.2)" stroke-width="2.2" fill="#fff"/>
<ellipse cx="844.7" cy="937.9" rx="2.5" ry="3.2" transform="rotate(-25 844.7 937.9)" stroke-width="1.6"/>
<path d="M841.0,944.2 L841.5,948.7 L845.5,945.2" stroke-width="1.8" fill="#fff"/>
<polyline points="706.5,953.3 766.0,981.4" stroke-dasharray="5.5 10.5"/>
<polyline points="796.3,996.6 803.8,998.7" stroke-width="2"/>
<polyline points="888.7,1042.2 893.0,1045.4" stroke-width="2"/>
<path d="M1053.3,1132.0 L892.3,1054.0 A5.0,5.0 0 0 1 896.7,1045.0 L1057.7,1123.0 A2.5,5.0 25.8 0 1 1053.3,1132.0 Z" stroke-width="2" fill="#fff"/>
<ellipse cx="1055.5" cy="1127.5" rx="2.5" ry="5.0" transform="rotate(25.84889123160758 1055.5 1127.5)" stroke-width="2" fill="#fff"/>
<polyline points="905.0,1047.5 902.5,1056.0" stroke-width="1.5"/>
<polyline points="908.0,1049.0 905.5,1057.5" stroke-width="1.5"/>
<polyline points="1040.0,1116.5 1037.5,1125.0" stroke-width="1.5"/>
<polyline points="1043.5,1118.2 1041.0,1126.7" stroke-width="1.5"/>
<polyline points="1047.0,1119.9 1044.5,1128.4" stroke-width="1.5"/>
<polyline points="1061.7,1130.9 1067.1,1134.1" stroke-width="2"/>
<ellipse cx="1073.7" cy="1135.8" rx="6.5" ry="8.5" transform="rotate(-15 1073.7 1135.8)" stroke-width="2.2" fill="#fff"/>
<ellipse cx="1074.7" cy="1136.3" rx="6.5" ry="8.5" transform="rotate(-15 1074.7 1136.3)" stroke-width="2.6" fill="#fff"/>
<ellipse cx="1075.2" cy="1136.6" rx="2.2" ry="3.2" transform="rotate(-15 1075.2 1136.6)" stroke-width="1.6"/>
<polyline points="1084.4,1143.8 1089.8,1147.1" stroke-width="2"/>
<ellipse cx="1097.4" cy="1149.3" rx="5.8" ry="7.2" transform="rotate(-25 1097.4 1149.3)" stroke-width="2.2" fill="#fff"/>
<ellipse cx="1097.1" cy="1149.0" rx="2.5" ry="3.2" transform="rotate(-25 1097.1 1149.0)" stroke-width="1.6"/>
<path d="M1091.9,1145.3 L1091.4,1139.8 L1095.9,1142.8" stroke-width="1.8" fill="#fff"/>
<polyline points="1110.4,1156.8 1116.9,1160.0" stroke-width="2"/>
<polyline points="143.8,634.1 143.8,662.2" stroke-width="1.8"/>
<polyline points="199.4,659.2 186.4,680.3" stroke-width="1.8"/>
<polyline points="271.7,639.2 271.7,668.3" stroke-width="1.8"/>
<polyline points="318.9,768.7 260.7,803.8" stroke-width="1.8"/>
<polyline points="766.6,854.9 766.6,893.8" stroke-width="1.8"/>
<polyline points="820.1,881.9 820.1,916.5" stroke-width="1.8"/>
<polyline points="881.7,904.6 850.4,930.6" stroke-width="1.8"/>
<polyline points="899.0,955.5 886.0,979.3" stroke-width="1.8"/>
<polyline points="770.3,1000.9 716.2,1038.7" stroke-width="1.8"/>
<polyline points="943.8,1035.7 943.8,1064.9" stroke-width="1.8"/>
<polyline points="1075.8,1110.3 1075.8,1127.6" stroke-width="1.8"/>
<polyline points="1112.5,1132.0 1105.0,1143.8" stroke-width="1.8"/>
<polyline points="627.0,555.5 531.9,584.5" stroke-width="1.8"/>
<ellipse cx="1292.6" cy="137.2" rx="0.9" ry="0.9" stroke-width="0.01" fill="#bbb"/>
<ellipse cx="107.4" cy="971.5" rx="1.0" ry="0.8" stroke-width="0.01" fill="#777"/>
</g>
<path fill="#ffff00" style="mix-blend-mode:multiply" d="M935.5,442.5 L943.2,442 L945.2,468.5 L935.5,480.1 L927.8,489.7 L916.3,507 L902.8,530.1 L887.4,555.2 L883.5,568.6 L875,584.3 L862,603 L840.8,622.3 L826.5,635 L858.3,629.5 L897,618.7 L935.5,611 L960,607.2 L985,602.5 L1066,602.5 L1066,628.5 L987,629.5 L960,632.5 L935.5,636 L897,644.5 L866.2,651.5 L842.4,657 L818.6,662.5 L794.8,666.7 L783.7,671.5 L769.4,671.5 L761.5,679.4 L750.4,690.5 L747.2,696.9 L740.9,704.8 L726.6,712.7 L710.8,719.1 L707.6,728.6 L698.1,738.1 L689.3,740.4 L668.6,743.6 L660,751.5 L653.6,752.9 L638.9,757.6 L630.9,760.2 L620.2,769.6 L608.8,773.6 L608.1,780 L606,785 L604.3,795.1 L604.2,807.2 L606.6,826.3 L612.1,829.5 L612.9,853.4 L608.2,855 L598.6,852.6 L593.9,847 L584.3,843.8 L585.1,823.2 L585.1,799.3 L585.9,778.6 L589.1,767.5 L593.9,751.6 L597,740.4 L606.6,729.3 L620.9,719.8 L633.6,711.8 L644.8,703.9 L652.7,688 L660,685.8 L667.9,682.6 L680.6,677.8 L694.9,669.9 L710.8,655.6 L723.4,647.7 L737.7,638.2 L745.6,630.3 L755.2,625.5 L771,617.6 L783.7,611.2 L799.6,600.1 L812.3,590.6 L828.1,579.5 L835.4,572.5 L848.9,560.9 L857.5,549.4 L864.3,534 L868.1,522.4 L875.8,510.9 L887.4,499.3 L900.9,487.8 L910.5,474.3 L920.1,463.7 L925,450 L929.5,445 Z"/>
<g>
<text x="573.6" y="79.5" font-size="26.9" textLength="82.6" lengthAdjust="spacingAndGlyphs">830008</text>
<text x="706.6" y="106.1" font-size="26.9" textLength="82.6" lengthAdjust="spacingAndGlyphs">830009</text>
<text x="753.6" y="139.0" font-size="26.9" textLength="83.3" lengthAdjust="spacingAndGlyphs">830010</text>
<text x="456.6" y="149.3" font-size="26.9" textLength="79.9" lengthAdjust="spacingAndGlyphs">830011</text>
<text x="651.1" y="287.3" font-size="26.9" textLength="82.8" lengthAdjust="spacingAndGlyphs">830012</text>
<text x="719.4" y="258.2" font-size="26.9" textLength="82.1" lengthAdjust="spacingAndGlyphs">830013</text>
<text x="638.9" y="365.2" font-size="26.9" textLength="83.0" lengthAdjust="spacingAndGlyphs">830014</text>
<text x="618.7" y="420.0" font-size="26.9" textLength="83.0" lengthAdjust="spacingAndGlyphs">830015</text>
<text x="633.1" y="565.3" font-size="26.9" textLength="83.0" lengthAdjust="spacingAndGlyphs">830016</text>
<text x="908.7" y="69.5" font-size="24.6" textLength="75.6" lengthAdjust="spacingAndGlyphs">830019</text>
<text x="907.2" y="135.3" font-size="24.6" textLength="75.6" lengthAdjust="spacingAndGlyphs">830020</text>
<text x="1079.5" y="202.1" font-size="24.6" textLength="73.0" lengthAdjust="spacingAndGlyphs">830021</text>
<text x="1064.4" y="248.6" font-size="24.6" textLength="73.8" lengthAdjust="spacingAndGlyphs">830022</text>
<text x="1055.2" y="283.8" font-size="24.6" textLength="73.8" lengthAdjust="spacingAndGlyphs">830023</text>
<text x="1040.9" y="319.3" font-size="24.6" textLength="73.9" lengthAdjust="spacingAndGlyphs">830024</text>
<text x="1024.2" y="352.7" font-size="24.6" textLength="73.9" lengthAdjust="spacingAndGlyphs">830025</text>
<text x="1007.5" y="413.9" font-size="24.6" textLength="73.8" lengthAdjust="spacingAndGlyphs">830027</text>
<text x="962.6" y="483.4" font-size="24.6" textLength="74.6" lengthAdjust="spacingAndGlyphs">830028</text>
<text x="1171.0" y="542.6" font-size="24.6" textLength="75.2" lengthAdjust="spacingAndGlyphs">830026</text>
<text x="989.4" y="620.9" font-size="24.6" textLength="74.3" lengthAdjust="spacingAndGlyphs">830029</text>
<text x="661.7" y="766.2" font-size="24.6" textLength="76.7" lengthAdjust="spacingAndGlyphs">830030</text>
<text x="333.2" y="355.5" font-size="24.6" textLength="74.3" lengthAdjust="spacingAndGlyphs">830037</text>
<text x="285.6" y="513.7" font-size="24.6" textLength="75.3" lengthAdjust="spacingAndGlyphs">830038</text>
<text x="100.6" y="629.4" font-size="24.6" textLength="74.6" lengthAdjust="spacingAndGlyphs">810038</text>
<text x="156.3" y="657.5" font-size="24.6" textLength="74.2" lengthAdjust="spacingAndGlyphs">810039</text>
<text x="233.2" y="637.4" font-size="24.6" textLength="74.2" lengthAdjust="spacingAndGlyphs">830004</text>
<text x="211.9" y="823.2" font-size="24.6" textLength="74.2" lengthAdjust="spacingAndGlyphs">830005</text>
<text x="492.0" y="708.4" font-size="24.6" textLength="75.6" lengthAdjust="spacingAndGlyphs">830018</text>
<text x="574.2" y="712.8" font-size="24.6" textLength="74.0" lengthAdjust="spacingAndGlyphs">830017</text>
<text x="613.7" y="835.3" font-size="24.6" textLength="72.7" lengthAdjust="spacingAndGlyphs">830031</text>
<text x="726.5" y="851.9" font-size="24.6" textLength="73.9" lengthAdjust="spacingAndGlyphs">830032</text>
<text x="780.1" y="880.5" font-size="24.6" textLength="73.3" lengthAdjust="spacingAndGlyphs">830033</text>
<text x="846.1" y="902.8" font-size="24.6" textLength="73.9" lengthAdjust="spacingAndGlyphs">830034</text>
<text x="869.3" y="952.5" font-size="24.6" textLength="73.9" lengthAdjust="spacingAndGlyphs">830004</text>
<text x="667.7" y="1058.5" font-size="24.6" textLength="73.7" lengthAdjust="spacingAndGlyphs">830005</text>
<text x="909.3" y="1032.3" font-size="24.6" textLength="75.1" lengthAdjust="spacingAndGlyphs">830006</text>
<text x="1036.5" y="1104.6" font-size="24.6" textLength="74.8" lengthAdjust="spacingAndGlyphs">810039</text>
<text x="1096.4" y="1127.9" font-size="24.6" textLength="74.4" lengthAdjust="spacingAndGlyphs">810038</text>
<text x="598.8" y="1010.2" font-size="24.6" textLength="73.7" lengthAdjust="spacingAndGlyphs">830035</text>
<text x="505.3" y="966.1" font-size="24.6" textLength="74.9" lengthAdjust="spacingAndGlyphs">830036</text>
</g>
</svg>
</body></html>
